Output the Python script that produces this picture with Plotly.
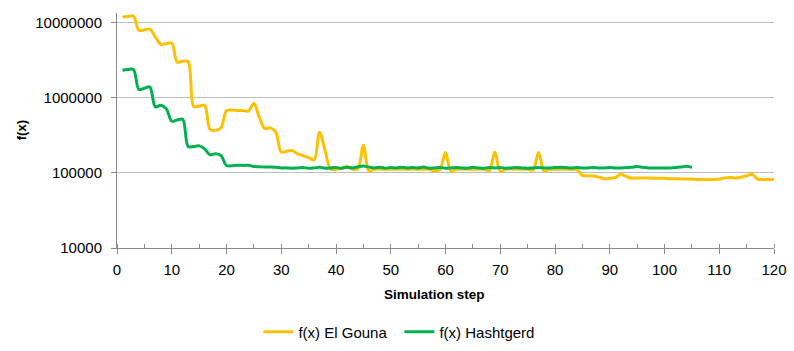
import plotly.graph_objects as go

steps_gouna = list(range(1, 121))
gouna = [
    12.0e6, 12.2e6, 12.4e6, 8.0e6, 8.1e6, 8.3e6, 6.5e6, 5.2e6, 5.3e6, 5.4e6,    # 1-10
    3.0e6, 3.1e6, 3.05e6, 0.77e6, 0.78e6, 0.80e6, 0.38e6, 0.37e6, 0.40e6, 0.68e6,  # 11-20
    0.69e6, 0.68e6, 0.68e6, 0.67e6, 0.85e6, 0.55e6, 0.39e6, 0.40e6, 0.35e6, 0.19e6,  # 21-30
    0.195e6, 0.20e6, 0.18e6, 0.17e6, 0.16e6, 0.15e6, 0.35e6, 0.20e6, 0.113e6, 0.112e6,  # 31-40
    0.115e6, 0.122e6, 0.112e6, 0.114e6, 0.235e6, 0.106e6, 0.112e6, 0.113e6, 0.112e6, 0.112e6,  # 41-50
    0.113e6, 0.112e6, 0.112e6, 0.113e6, 0.112e6, 0.112e6, 0.112e6, 0.107e6, 0.112e6, 0.188e6,  # 51-60
    0.106e6, 0.112e6, 0.113e6, 0.112e6, 0.112e6, 0.113e6, 0.112e6, 0.108e6, 0.190e6, 0.106e6,  # 61-70
    0.112e6, 0.113e6, 0.112e6, 0.112e6, 0.112e6, 0.110e6, 0.188e6, 0.106e6, 0.112e6, 0.112e6,  # 71-80
    0.113e6, 0.112e6, 0.112e6, 0.111e6, 0.093e6, 0.092e6, 0.091e6, 0.088e6, 0.084e6, 0.085e6,  # 81-90
    0.087e6, 0.096e6, 0.090e6, 0.085e6, 0.086e6, 0.086e6, 0.086e6, 0.085e6, 0.085e6, 0.085e6,  # 91-100
    0.084e6, 0.084e6, 0.083e6, 0.083e6, 0.083e6, 0.082e6, 0.082e6, 0.082e6, 0.082e6, 0.083e6,  # 101-110
    0.086e6, 0.087e6, 0.086e6, 0.088e6, 0.092e6, 0.096e6, 0.083e6, 0.082e6, 0.082e6, 0.082e6,  # 111-120
]

steps_hasht = list(range(1, 106))
hasht = [
    2.35e6, 2.40e6, 2.40e6, 1.30e6, 1.35e6, 1.40e6, 0.76e6, 0.80e6, 0.72e6, 0.49e6,  # 1-10
    0.51e6, 0.52e6, 0.225e6, 0.225e6, 0.23e6, 0.21e6, 0.175e6, 0.18e6, 0.17e6, 0.126e6,  # 11-20
    0.125e6, 0.127e6, 0.126e6, 0.127e6, 0.122e6, 0.121e6, 0.120e6, 0.120e6, 0.119e6, 0.117e6,  # 21-30
    0.117e6, 0.116e6, 0.117e6, 0.118e6, 0.116e6, 0.117e6, 0.119e6, 0.116e6, 0.117e6, 0.118e6,  # 31-40
    0.116e6, 0.119e6, 0.117e6, 0.121e6, 0.124e6, 0.120e6, 0.117e6, 0.119e6, 0.116e6, 0.118e6,  # 41-50
    0.117e6, 0.119e6, 0.117e6, 0.118e6, 0.117e6, 0.120e6, 0.116e6, 0.117e6, 0.118e6, 0.116e6,  # 51-60
    0.117e6, 0.118e6, 0.117e6, 0.116e6, 0.119e6, 0.117e6, 0.116e6, 0.118e6, 0.117e6, 0.118e6,  # 61-70
    0.116e6, 0.117e6, 0.118e6, 0.117e6, 0.116e6, 0.117e6, 0.118e6, 0.117e6, 0.117e6, 0.118e6,  # 71-80
    0.119e6, 0.118e6, 0.117e6, 0.118e6, 0.117e6, 0.117e6, 0.118e6, 0.117e6, 0.117e6, 0.118e6,  # 81-90
    0.117e6, 0.117e6, 0.118e6, 0.119e6, 0.122e6, 0.119e6, 0.117e6, 0.117e6, 0.117e6, 0.117e6,  # 91-100
    0.117e6, 0.118e6, 0.120e6, 0.123e6, 0.119e6,  # 101-105
]

y_tickvals = [1e4, 1e5, 1e6, 1e7]
y_ticktext = ["10000", "100000", "1000000", "10000000"]
x_tickvals = list(range(0, 121, 10))

FONT = "Liberation Sans"
AX = "#8c8c8c"
GRID = "#bdbdbd"

fig = go.Figure()
fig.add_trace(go.Scatter(
    x=steps_gouna, y=gouna, mode="lines", name="f(x) El Gouna",
    line=dict(color="#FFC000", width=3, shape="spline", smoothing=0.9),
))
fig.add_trace(go.Scatter(
    x=steps_hasht, y=hasht, mode="lines", name="f(x) Hashtgerd",
    line=dict(color="#00B050", width=3, shape="spline", smoothing=0.9),
))

fig.update_layout(
    width=794, height=351,
    margin=dict(l=117, r=20, t=13, b=103, autoexpand=False),
    paper_bgcolor="white", plot_bgcolor="white",
    font=dict(family=FONT, size=15, color="black"),
    showlegend=True,
    legend=dict(orientation="h", xref="container", yref="container",
                x=0.503, xanchor="center", y=0.054, yanchor="middle",
                font=dict(size=15), itemwidth=30, tracegroupgap=0,
                entrywidth=96, entrywidthmode="pixels"),
    xaxis=dict(
        range=[0, 120], tickvals=x_tickvals, ticks="outside", ticklen=5, tickcolor=AX,
        showline=True, linecolor=AX, linewidth=1, showgrid=False, zeroline=False,
        minor=dict(dtick=5, ticks="inside", ticklen=4, tickcolor=AX, showgrid=False),
        tickfont=dict(size=15), ticklabelstandoff=3, automargin=False,
    ),
    xaxis2=dict(
        range=[0, 120], overlaying="x", anchor="y", tickvals=x_tickvals, ticks="inside",
        ticklen=4, tickcolor=AX, showticklabels=False, showgrid=False, zeroline=False,
        side="bottom", automargin=False,
    ),
    yaxis=dict(
        type="log", range=[4, 7.133], tickvals=y_tickvals, ticktext=y_ticktext,
        ticks="outside", ticklen=5, tickcolor=AX, showline=True, linecolor=AX, linewidth=1,
        showgrid=True, gridcolor=GRID, gridwidth=1, zeroline=False,
        tickfont=dict(size=15), ticklabelstandoff=6, automargin=False,
    ),
    annotations=[
        dict(text="<b>f(x)</b>", xref="paper", yref="paper", x=-0.145, y=0.5,
             textangle=-90, showarrow=False, font=dict(size=13), xanchor="center", yanchor="middle"),
        dict(text="<b>Simulation step</b>", xref="paper", yref="paper", x=0.484, y=-0.197,
             showarrow=False, font=dict(size=13.5), xanchor="center", yanchor="middle"),
    ],
)
# invisible trace to activate xaxis2 (cross ticks)
fig.add_trace(go.Scatter(x=[0], y=[1e4], xaxis="x2", mode="markers",
                         marker=dict(opacity=0), showlegend=False, hoverinfo="skip"))

fig.write_html("out.html")
